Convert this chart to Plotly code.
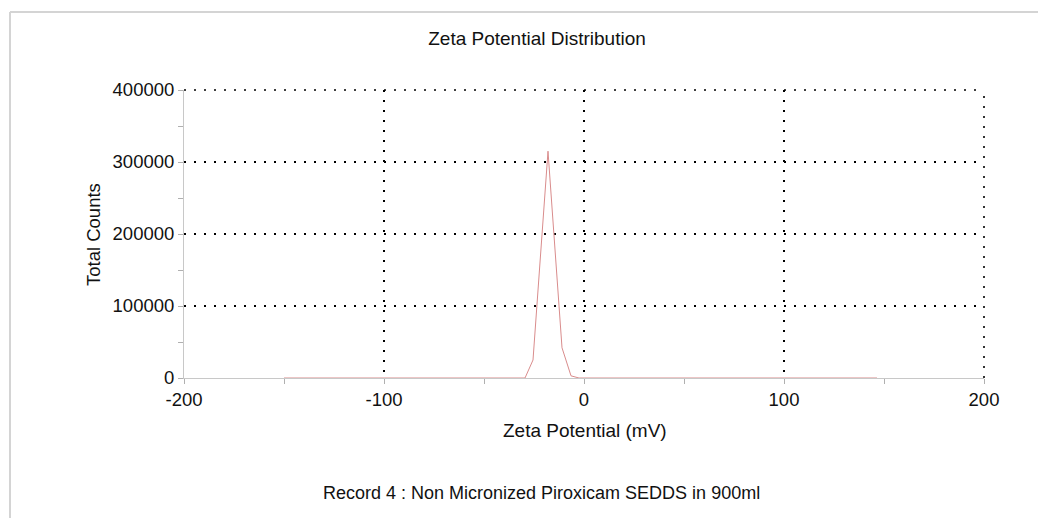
import plotly.graph_objects as go

# Data
zeta_mv = [-150, -29.5, -25.5, -18, -11, -6.5, -2.5, 146.5]
total_counts = [0, 0, 25000, 315000, 42000, 3000, 0, 0]

x_ticks = [-200, -100, 0, 100, 200]
x_tick_labels = ["-200", "-100", "0", "100", "200"]
y_ticks = [0, 100000, 200000, 300000, 400000]
y_tick_labels = ["0", "100000", "200000", "300000", "400000"]

title_text = "Zeta Potential Distribution"
x_title = "Zeta Potential (mV)"
y_title = "Total Counts"
record_text = "Record 4 : Non Micronized Piroxicam SEDDS in 900ml"

FONT = "Liberation Sans, Arial, sans-serif"
OFF = 8  # page body margin
W, H = 1046 - OFF, 518 - OFF
L, R, T, B = 176, 62, 82, 140
pw, ph = W - L - R, H - T - B


def sx(px):  # screen x -> paper
    return (px - OFF - L) / pw


def sy(py):  # screen y -> paper
    return (H - B - (py - OFF)) / ph


fig = go.Figure()
fig.add_trace(go.Scatter(x=zeta_mv, y=total_counts, mode="lines",
                         line=dict(color="#d98c8c", width=1), showlegend=False,
                         hoverinfo="x+y"))

DASH = "2px,8px"
axis_common = dict(showline=True, linecolor="#c8c8c8", linewidth=1,
                   showgrid=True, gridcolor="#000000", gridwidth=1.6,
                   griddash=DASH, zeroline=False,
                   ticks="outside", ticklen=5, tickcolor="#b0b0b0",
                   tickfont=dict(family=FONT, size=18.5, color="#111"))

fig.update_xaxes(range=[-200, 200], tickvals=x_ticks, ticktext=x_tick_labels,
                 minor=dict(dtick=50, tick0=0, ticks="outside", ticklen=5,
                            tickcolor="#b0b0b0", showgrid=False),
                 **axis_common)
fig.update_yaxes(range=[0, 400000], tickvals=y_ticks, ticktext=y_tick_labels,
                 minor=dict(dtick=50000, tick0=0, ticks="outside", ticklen=5,
                            tickcolor="#b0b0b0", showgrid=False),
                 **axis_common)

# gridlines at the plot edges (top at 400000, right at 200) - paper refs avoid clipping
fig.add_shape(type="line", xref="paper", yref="paper", x0=0, x1=1, y0=1, y1=1,
              line=dict(color="#000000", width=1.6, dash=DASH))
fig.add_shape(type="line", xref="paper", yref="paper", x0=1, x1=1, y0=0, y1=1,
              line=dict(color="#000000", width=1.6, dash=DASH))

# Outer frame (top and left edges)
fig.add_shape(type="line", xref="paper", yref="paper",
              x0=sx(10), x1=sx(1046), y0=sy(12), y1=sy(12),
              line=dict(color="#d4d4d4", width=2))
fig.add_shape(type="line", xref="paper", yref="paper",
              x0=sx(10), x1=sx(10), y0=sy(12), y1=sy(518),
              line=dict(color="#d4d4d4", width=2))

fig.add_annotation(text=x_title, xref="paper", yref="paper",
                   x=sx(585), y=sy(430), showarrow=False,
                   xanchor="center", yanchor="middle",
                   font=dict(family=FONT, size=19, color="#111"))
fig.add_annotation(text=y_title, xref="paper", yref="paper",
                   x=sx(93), y=sy(235), showarrow=False, textangle=-90,
                   xanchor="center", yanchor="middle",
                   font=dict(family=FONT, size=18.5, color="#111"))
fig.add_annotation(text=record_text, xref="paper", yref="paper",
                   x=sx(541), y=sy(493), showarrow=False,
                   xanchor="center", yanchor="middle",
                   font=dict(family=FONT, size=18, color="#111"))

fig.update_layout(
    width=W, height=H,
    margin=dict(l=L, r=R, t=T, b=B),
    paper_bgcolor="white", plot_bgcolor="white",
    title=dict(text=title_text, xref="container", yref="container",
               x=(537 - OFF) / W, y=1 - (38 - OFF) / H,
               xanchor="center", yanchor="middle",
               font=dict(family=FONT, size=19, color="#111")),
)

fig.write_html("out.html")
